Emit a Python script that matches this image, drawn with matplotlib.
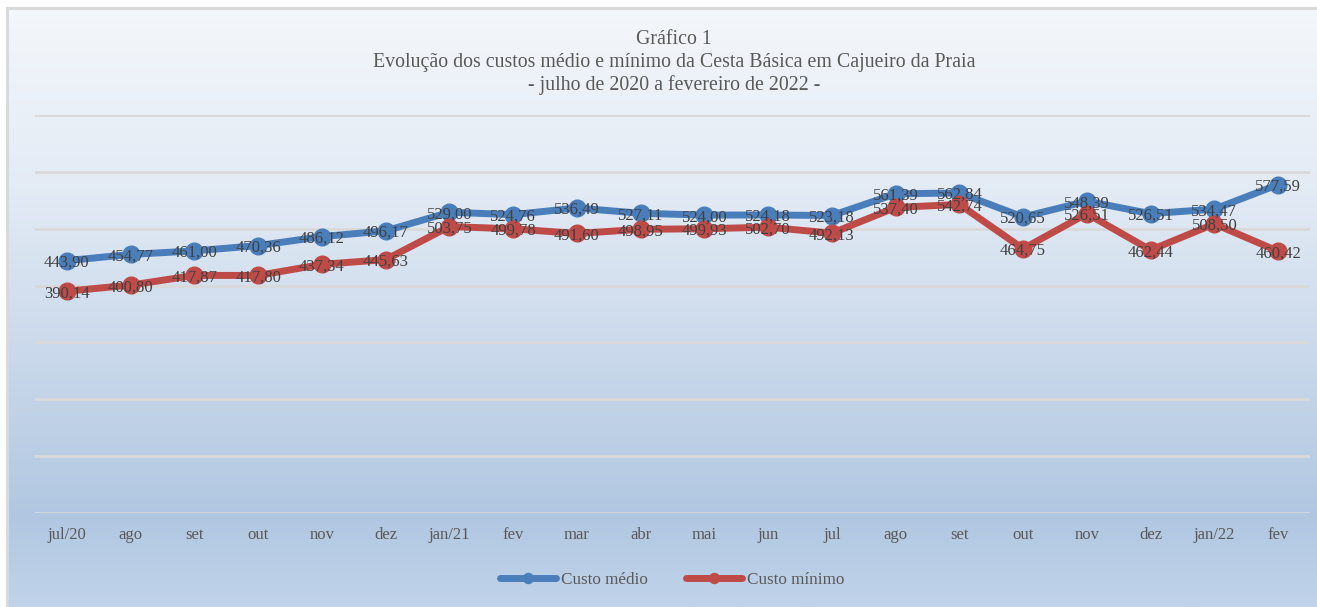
import numpy as np
import matplotlib.pyplot as plt
from matplotlib.patches import Rectangle
from matplotlib.colors import LinearSegmentedColormap

meses = ["jul/20", "ago", "set", "out", "nov", "dez", "jan/21", "fev", "mar", "abr",
         "mai", "jun", "jul", "ago", "set", "out", "nov", "dez", "jan/22", "fev"]
custo_medio = [443.90, 454.77, 461.00, 470.36, 486.12, 496.17, 529.00, 524.76, 536.49, 527.11,
               524.00, 524.18, 523.18, 561.39, 562.84, 520.65, 548.39, 526.51, 534.47, 577.59]
custo_minimo = [390.14, 400.80, 417.87, 417.80, 437.34, 445.63, 503.75, 499.78, 491.60, 498.95,
                499.93, 502.70, 492.13, 537.40, 542.74, 464.75, 526.51, 462.44, 508.50, 460.42]

W, H = 1317, 607
fig = plt.figure(figsize=(W / 100, H / 100), dpi=100)
fig.patch.set_facecolor("white")

# background gradient of the chart area
bg = fig.add_axes([7 / W, 0, 1 - 7 / W, 1 - 8 / H], zorder=-10)
cmap = LinearSegmentedColormap.from_list(
    "bg", [(0, "#f4f7fb"), (0.3, "#e3ebf5"), (0.85, "#b1c7e1"), (1, "#c0d3ea")])
grad = np.linspace(0, 1, 256).reshape(-1, 1)
bg.imshow(grad, aspect="auto", cmap=cmap, extent=[0, 1, 0, 1], origin="upper")
bg.set_axis_off()
fig.patches.append(Rectangle((7 / W, -0.01), 1.0, 1 - 8 / H + 0.01, transform=fig.transFigure,
                             fill=False, edgecolor="#d9d9d9", linewidth=2.2, zorder=5))

serif = ["Liberation Serif", "DejaVu Serif"]
ax = fig.add_axes([35 / W, 1 - 513 / H, (1310 - 35) / W, (513 - 115) / H])
ax.set_facecolor("none")
x = np.arange(len(meses))
ax.set_xlim(-0.5, len(meses) - 0.5)
ax.set_ylim(0, 700)
ax.set_yticks(np.arange(0, 701, 100))
ax.yaxis.grid(True, color="#d9d9d9", linewidth=2)
ax.set_axisbelow(True)
ax.tick_params(axis="y", left=False, labelleft=False)
ax.tick_params(axis="x", length=0, pad=10)
ax.set_xticks(x)
ax.set_xticklabels(meses, family=serif, fontsize=12, color="#595959")
for s in ax.spines.values():
    s.set_visible(False)

l1, = ax.plot(x, custo_medio, color="#4a7ebb", linewidth=5, marker="o", markersize=12,
              solid_capstyle="round", label="Custo médio")
l2, = ax.plot(x, custo_minimo, color="#be4b48", linewidth=5, marker="o", markersize=12,
              solid_capstyle="round", label="Custo mínimo")

for xi, v in zip(x, custo_medio):
    ax.annotate(f"{v:.2f}".replace(".", ","), (xi, v), xytext=(0, -1.5), textcoords="offset points",
                ha="center", va="center", family=serif, fontsize=12, color="#404040")
for xi, v in zip(x, custo_minimo):
    ax.annotate(f"{v:.2f}".replace(".", ","), (xi, v), xytext=(0, -1.5), textcoords="offset points",
                ha="center", va="center", family=serif, fontsize=12, color="#404040")

titulo = ["Gráfico 1",
          "Evolução dos custos médio e mínimo da Cesta Básica em Cajueiro da Praia",
          "- julho de 2020 a fevereiro de 2022 -"]
for ty, t in zip([40, 62, 85], titulo):
    fig.text(674 / W, 1 - ty / H, t, ha="center", va="center", family=serif,
             fontsize=14.3, color="#595959")

fig.legend(handles=[l1, l2], loc="center", bbox_to_anchor=(672 / W, 1 - 580 / H), ncol=2,
           frameon=False, prop={"family": serif, "size": 12.3}, labelcolor="#595959",
           handlelength=3.3, columnspacing=2.2, handletextpad=0.3, markerscale=0.6)

fig.savefig("out.png", dpi=100)
